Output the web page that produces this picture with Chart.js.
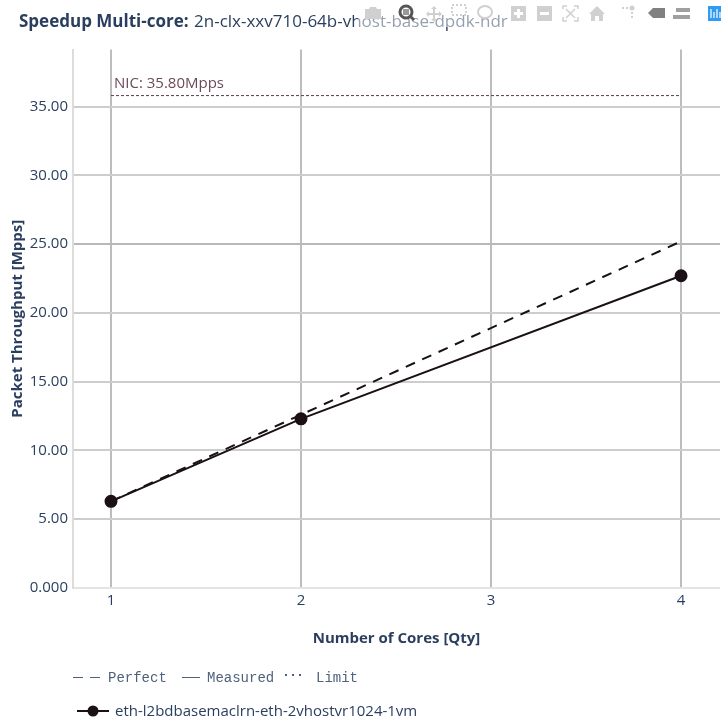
<!DOCTYPE html>
<html>
<head>
<meta charset="utf-8">
<title>Speedup Multi-core</title>
<script src="https://cdn.jsdelivr.net/npm/chart.js@4/dist/chart.umd.min.js"></script>
<style>
  html, body { margin: 0; padding: 0; background: #fff; }
  #wrap { position: relative; width: 725px; height: 726px; overflow: hidden; }
  #myChart { position: absolute; left: 0; top: 0; }
  #title { position: absolute; left: 19px; top: 9px; font: 17px "Open Sans"; color: #2a3f5f; white-space: nowrap; word-spacing: 1px; }
  #title b { font-weight: 700; word-spacing: 0; }
  #modebar { position: absolute; left: 358px; top: 0; width: 367px; height: 27px; background: rgba(255,255,255,.5); }
</style>
</head>
<body>
<div id="wrap">
  <canvas id="myChart" width="725" height="726"></canvas>
  <div id="title"><b>Speedup Multi-core:</b> 2n-clx-xxv710-64b-vhost-base-dpdk-ndr</div>
  <div id="modebar">
    <svg width="367" height="27" viewBox="358 0 367 27">
      <g fill="#d0d0d0" stroke="none">
        <!-- camera -->
        <path d="M365 9h4l1-2h6l1 2h4v10h-16z"/>
        <!-- pan -->
        <path d="M434 6l3 3h-2v4h4v-2l3 3-3 3v-2h-4v4h2l-3 3-3-3h2v-4h-4v2l-3-3 3-3v2h4v-4h-2z"/>
        <!-- plus -->
        <path d="M511 6h15v15h-15z M517 9v3h-3v3h3v3h3v-3h3v-3h-3v-3z" fill-rule="evenodd"/>
        <!-- minus -->
        <path d="M537 6h15v15h-15z M540 12v3h9v-3z" fill-rule="evenodd"/>
        <!-- home -->
        <path d="M597 6l8 8h-2v7h-4v-5h-4v5h-4v-7h-2z"/>
        <!-- spikes -->
        <circle cx="632" cy="8" r="2.5"/><rect x="631" y="12" width="2" height="2"/><rect x="631" y="16" width="2" height="2"/><rect x="622" y="7" width="2" height="2"/><rect x="626" y="7" width="2" height="2"/>
      </g>
      <g>
        <!-- closest and compare hover -->
        <path d="M648 13l5-5h12v10h-12z" fill="#808080"/>
        <path d="M676 8h14v4h-14z M673 15h17v4h-17z" fill="#a0a0a0"/>
      </g>
      <!-- zoom, active -->
      <circle cx="406" cy="12" r="6" fill="none" stroke="#555" stroke-width="3"/>
      <rect x="403" y="9" width="6" height="6" fill="#999"/>
      <path d="M410 16l4 4" stroke="#555" stroke-width="3"/>
      <!-- box and lasso select -->
      <rect x="452" y="5" width="14" height="10" fill="none" stroke="#d0d0d0" stroke-width="2" stroke-dasharray="2 2"/>
      <ellipse cx="485" cy="12" rx="7" ry="6" fill="none" stroke="#d0d0d0" stroke-width="2"/>
      <!-- autoscale -->
      <path d="M563 9V6h4M574 6h4v3M578 17v4h-4M567 21h-4v-4M566 9l9 9M575 9l-9 9" fill="none" stroke="#d0d0d0" stroke-width="1.5"/>
      <!-- plotly logo -->
      <rect x="708" y="6" width="13" height="15" fill="#2f9bf5"/>
      <path d="M711 9v9M714 12v6M717 9v9M720 12v6" stroke="#fff" stroke-width="1.2"/>
    </svg>
  </div>
</div>
<script>
'use strict';

// DATA
const cores = [1, 2, 4];
const perfect = [6.3, 12.6, 25.2];
const measured = [6.3, 12.3, 22.7];
const limitCores = [1, 4];
const limitValues = [35.8, 35.8];
const yTicks = [0, 5, 10, 15, 20, 25, 30, 35];
const xTicks = [1, 2, 3, 4];
const nicLabel = 'NIC: 35.80Mpps';
const seriesName = 'eth-l2bdbasemaclrn-eth-2vhostvr1024-1vm';
const styleLegend = ['Perfect', 'Measured', 'Limit'];

function points(xs, ys) {
  return xs.map(function(x, i) { return { x: x, y: ys[i] } });
}

const textColor = '#2a3f5f';
const lineColor = '#1a1016';

// podpis NIC i legenda rysowane na canvasie
const extras = {
  id: 'extras',
  afterDatasetsDraw: function(chart) {
    const c = chart.ctx;
    const xs = chart.scales.x;
    const ys = chart.scales.y;
    c.save();
    c.textBaseline = 'alphabetic';
    c.textAlign = 'left';

    c.fillStyle = '#6b4a5a';
    c.font = '15px "Open Sans"';
    c.fillText(nicLabel, xs.getPixelForValue(1) + 3, ys.getPixelForValue(35.8) - 8);

    // legenda stylow linii
    c.fillStyle = '#50617d';
    c.font = '14px "Liberation Mono"';
    c.fillText(styleLegend[0], 108, 682);
    c.fillText(styleLegend[1], 207, 682);
    c.fillText(styleLegend[2], 316, 682);
    c.strokeStyle = '#50617d';
    c.lineWidth = 1;
    c.beginPath();
    c.moveTo(73, 677.5); c.lineTo(83, 677.5);
    c.moveTo(90, 677.5); c.lineTo(100, 677.5);
    c.moveTo(182, 677.5); c.lineTo(200, 677.5);
    c.stroke();
    c.fillRect(285, 674, 2, 2);
    c.fillRect(292, 674, 2, 2);
    c.fillRect(299, 674, 2, 2);

    // legenda serii
    c.strokeStyle = lineColor;
    c.lineWidth = 2;
    c.beginPath();
    c.moveTo(77, 711); c.lineTo(109, 711);
    c.stroke();
    c.fillStyle = lineColor;
    c.beginPath();
    c.arc(93, 711, 5.5, 0, Math.PI * 2);
    c.fill();
    c.fillStyle = textColor;
    c.font = '15px "Open Sans"';
    c.fillText(seriesName, 115, 716);
    c.restore();
  }
};

const ctx = document.getElementById('myChart').getContext('2d');

const chart = new Chart(ctx, {
  type: 'scatter',
  plugins: [extras],
  data: {
    datasets: [{
      label: 'Limit',
      data: points(limitCores, limitValues),
      showLine: true,
      borderColor: '#5c3a48',
      borderWidth: 1,
      borderDash: [3, 2],
      pointRadius: 0
    }, {
      label: 'Perfect',
      data: points(cores, perfect),
      showLine: true,
      borderColor: lineColor,
      borderWidth: 2,
      borderDash: [10, 8],
      pointRadius: 0
    }, {
      label: 'Measured',
      data: points(cores, measured),
      showLine: true,
      borderColor: lineColor,
      borderWidth: 2,
      pointRadius: 5.5,
      pointBackgroundColor: lineColor,
      pointBorderColor: lineColor
    }]
  },
  options: {
    responsive: false,
    animation: false,
    layout: { autoPadding: false, padding: { top: 49.5, right: 5, bottom: 0, left: 0 } },
    plugins: {
      legend: { display: false },
      title: { display: false },
      tooltip: { enabled: false }
    },
    scales: {
      x: {
        type: 'linear',
        min: 0.8,
        max: 4.205,
        afterBuildTicks: function(axis) {
          axis.ticks = xTicks.map(function(v) { return { value: v } });
        },
        afterFit: function(axis) { axis.height = 138; },
        grid: {
          color: '#bdbdbd',
          lineWidth: 2,
          drawTicks: false
        },
        border: { display: false },
        ticks: {
          color: textColor,
          padding: 4,
          maxRotation: 0,
          font: { family: '"Open Sans"', size: 15 },
          callback: function(v) { return String(v) }
        },
        title: {
          display: true,
          text: 'Number of Cores [Qty]',
          color: textColor,
          padding: { top: 20, bottom: 78 },
          font: { family: '"Open Sans"', size: 15, weight: '700' }
        }
      },
      y: {
        type: 'linear',
        min: 0,
        max: 39.15,
        afterBuildTicks: function(axis) {
          axis.ticks = yTicks.map(function(v) { return { value: v } });
        },
        afterFit: function(axis) { axis.width = 73; },
        grid: {
          color: function(c) {
            if (c.tick && c.tick.value === 0) return '#e4e4e4';
            if (c.tick && c.tick.value === 25) return '#b8b8b8';
            return '#cdcdcd';
          },
          lineWidth: 2,
          drawTicks: false
        },
        border: { display: true, color: '#dcdcdc', width: 2 },
        ticks: {
          color: textColor,
          padding: 5,
          font: { family: '"Open Sans"', size: 15 },
          callback: function(v) { return v === 0 ? '0.000' : v.toFixed(2) }
        },
        title: {
          display: true,
          text: 'Packet Throughput [Mpps]',
          color: textColor,
          padding: { top: 9, bottom: 4 },
          font: { family: '"Open Sans"', size: 15, weight: '700' }
        }
      }
    }
  }
});
</script>
</body>
</html>
